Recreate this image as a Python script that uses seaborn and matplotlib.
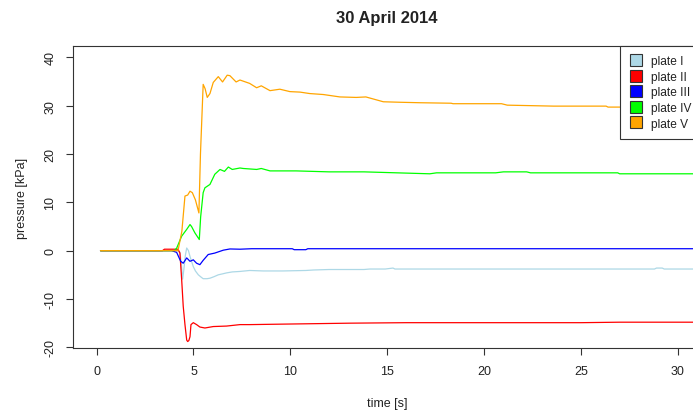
import pandas as pd
import numpy as np
import matplotlib
matplotlib.use("Agg")
import matplotlib.pyplot as plt
import seaborn as sns
from matplotlib.lines import Line2D

# ==================================================
# DATA
# ==================================================

labels = ["plate I", "plate II", "plate III", "plate IV", "plate V"]
colors = ["#ADD8E6", "#FF0000", "#0000FF", "#00FF00", "#FFA500"]

t_plate1 = [0.2, 4.2, 4.3, 4.38, 4.44, 4.5, 4.58, 4.65, 4.74, 4.82, 4.9, 4.99, 5.1,
            5.25, 5.4, 5.5, 5.7, 5.85, 6.05, 6.28, 6.5, 6.71, 7.0, 7.4, 7.9, 8.6,
            9.6, 10.8, 11.2, 12.0, 13.8, 14.1, 14.9, 15.3, 15.4, 20.0, 25.0, 28.8,
            28.9, 29.2, 29.3, 31.0]
p_plate1 = [0, 0, -0.3, -3.0, -5.9, -4.0, -1.0, 0.55, 0.0, -1.2, -2.2, -3.3, -4.2,
            -5.0, -5.5, -5.8, -5.8, -5.7, -5.4, -5.0, -4.8, -4.6, -4.4, -4.3, -4.1,
            -4.2, -4.2, -4.1, -4.0, -3.9, -3.9, -3.8, -3.8, -3.6, -3.8, -3.8, -3.8,
            -3.8, -3.6, -3.6, -3.8, -3.8]

t_plate2 = [0.2, 3.4, 3.5, 4.2, 4.3, 4.39, 4.47, 4.56, 4.65, 4.7, 4.76, 4.82, 4.87,
            4.99, 5.16, 5.33, 5.59, 6.02, 6.71, 7.4, 7.9, 9.6, 13.1, 16.0, 20.0,
            25.0, 27.0, 28.0, 31.0]
p_plate2 = [0, 0, 0.3, 0.3, -0.5, -6.0, -11.5, -15.3, -18.5, -18.8, -18.6, -17.8,
            -15.3, -14.9, -15.3, -15.8, -16.0, -15.7, -15.6, -15.3, -15.3, -15.2,
            -15.0, -14.9, -14.9, -14.9, -14.8, -14.8, -14.8]

t_plate3 = [0.2, 3.87, 4.13, 4.34, 4.47, 4.65, 4.82, 4.99, 5.16, 5.33, 5.5, 5.76,
            6.1, 6.54, 6.88, 7.4, 8.0, 9.0, 10.1, 10.2, 10.8, 10.9, 12.0, 13.3,
            20.0, 31.0]
p_plate3 = [0, 0, -0.35, -2.2, -2.6, -1.5, -2.2, -1.9, -2.6, -2.9, -2.0, -0.8,
            -0.5, 0.1, 0.35, 0.3, 0.4, 0.4, 0.4, 0.2, 0.2, 0.4, 0.4, 0.4, 0.4, 0.4]

t_plate4 = [0.2, 4.0, 4.13, 4.39, 4.65, 4.82, 4.9, 5.07, 5.3, 5.37, 5.5, 5.59, 5.85,
            6.1, 6.37, 6.6, 6.8, 7.0, 7.4, 7.57, 8.26, 8.5, 8.95, 10.3, 12.0, 13.8,
            15.5, 17.2, 17.55, 20.6, 21.0, 22.2, 22.4, 26.9, 27.0, 31.0]
p_plate4 = [0, 0, 0.5, 3.0, 4.4, 5.4, 5.0, 3.7, 2.3, 7.0, 12.0, 13.0, 13.7, 15.8,
            16.8, 16.4, 17.3, 16.8, 17.1, 17.0, 16.8, 17.0, 16.5, 16.5, 16.3, 16.3,
            16.1, 15.9, 16.1, 16.1, 16.3, 16.3, 16.1, 16.1, 15.9, 15.9]

t_plate5 = [0.2, 4.2, 4.4, 4.56, 4.7, 4.82, 4.94, 5.1, 5.28, 5.36, 5.5, 5.6, 5.71,
            5.85, 6.02, 6.28, 6.5, 6.74, 6.88, 7.2, 7.4, 7.9, 8.26, 8.5, 8.95, 9.46,
            9.98, 10.5, 11.0, 11.7, 12.56, 13.4, 13.9, 14.8, 15.66, 16.7, 18.3,
            18.4, 20.9, 21.2, 23.6, 26.3, 26.4, 27.2, 31.0]
p_plate5 = [0, 0, 4.0, 11.3, 11.5, 12.3, 12.0, 10.5, 7.8, 20.0, 34.4, 33.5, 31.7,
            32.5, 34.8, 36.0, 34.9, 36.3, 36.2, 34.9, 35.3, 34.6, 33.7, 34.1, 33.1,
            33.4, 32.9, 32.8, 32.5, 32.3, 31.8, 31.7, 31.8, 30.8, 30.7, 30.6, 30.5,
            30.4, 30.4, 30.1, 29.9, 29.9, 29.7, 29.7, 29.7]

times = [t_plate1, t_plate2, t_plate3, t_plate4, t_plate5]
values = [p_plate1, p_plate2, p_plate3, p_plate4, p_plate5]

df = pd.concat(
    [pd.DataFrame({"time": t, "pressure": p, "plate": lab})
     for t, p, lab in zip(times, values, labels)],
    ignore_index=True
)

# ==================================================
# PLOT
# ==================================================

sns.set_style("white")
plt.rcParams["font.family"] = ["Liberation Sans", "DejaVu Sans"]
plt.rcParams["axes.unicode_minus"] = False

fig = plt.figure(figsize=(6.93, 4.14), dpi=100)
ax = fig.add_axes([73 / 693, 64.7 / 414, 628 / 693, 302.6 / 414])

sns.lineplot(
    data=df,
    x="time",
    y="pressure",
    hue="plate",
    hue_order=labels,
    palette=colors,
    estimator=None,
    sort=False,
    linewidth=0.9,
    legend=False,
    ax=ax
)

ax.set_xlim(-1.22, 31.2)
ax.set_ylim(-20.2, 42.4)
ax.set_xticks(range(0, 31, 5))
ax.set_yticks(range(-20, 41, 10))
ax.tick_params(bottom=True, left=True, direction="out", length=5, width=0.8,
               color="#333333", labelsize=9, pad=7, labelcolor="#222222")
ax.tick_params(axis="y", labelrotation=90)
for lab in ax.get_yticklabels():
    lab.set_va("center")
for sp in ax.spines.values():
    sp.set_color("#333333")
    sp.set_linewidth(0.8)

ax.set_xlabel("time [s]", fontsize=9, color="#222222")
ax.set_ylabel("pressure [kPa]", fontsize=9, color="#222222")
ax.xaxis.set_label_coords(0.5, -0.161)
ax.yaxis.set_label_coords(-0.0717, 0.5)
ax.set_title("30 April 2014", fontsize=12, fontweight="bold", pad=17,
             color="#222222")

handles = [
    Line2D([0], [0], marker="s", linestyle="none", markersize=8,
           markerfacecolor=c, markeredgecolor="#333333", markeredgewidth=0.8)
    for c in colors
]
leg = ax.legend(
    handles, labels,
    loc="upper right",
    bbox_to_anchor=(1.0, 1.0),
    borderaxespad=0,
    fancybox=False,
    frameon=True,
    framealpha=1,
    edgecolor="#333333",
    fontsize=8.6,
    handlelength=1.0,
    handletextpad=0.8,
    labelspacing=0.3,
    borderpad=0.8
)
leg.get_frame().set_linewidth(0.8)
for txt in leg.get_texts():
    txt.set_color("#222222")

plt.savefig("out.png", dpi=100)
